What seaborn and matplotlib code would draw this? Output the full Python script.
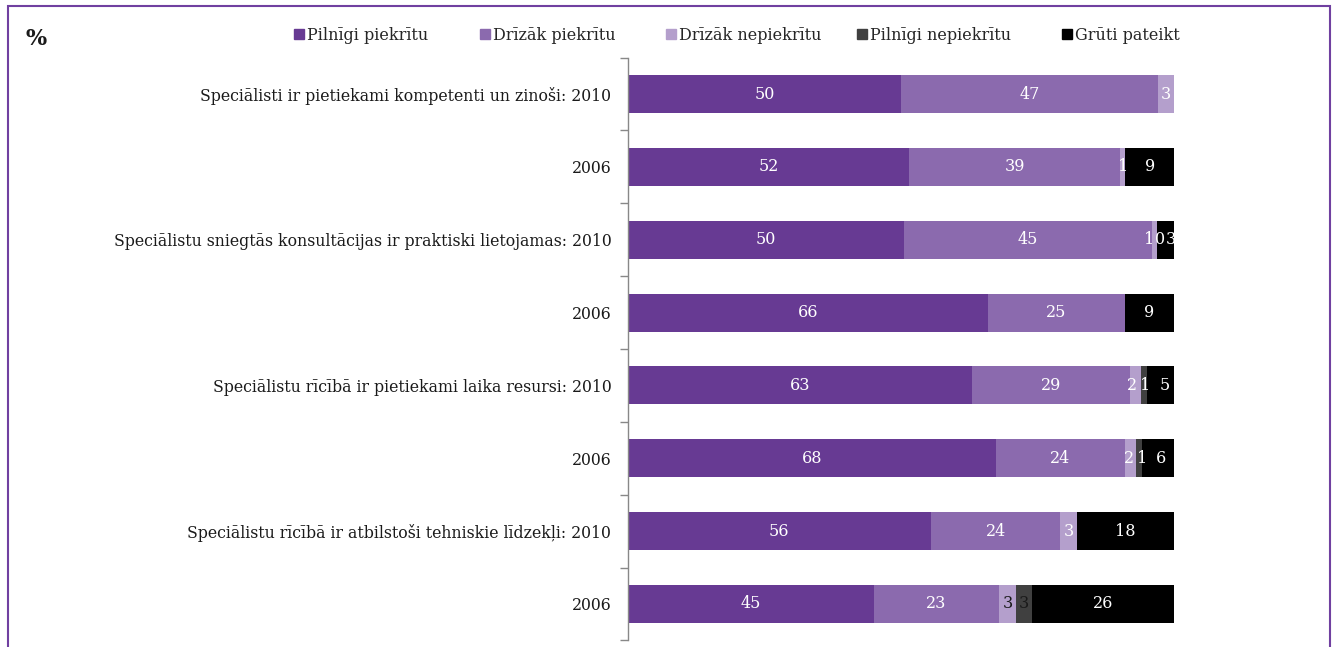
import numpy as np
import pandas as pd
import matplotlib
matplotlib.use("Agg")
import matplotlib.pyplot as plt
from matplotlib.patches import Rectangle
from matplotlib.lines import Line2D
import seaborn as sns

# Survey rows (top to bottom)
row_labels = [
    "Speciālisti ir pietiekami kompetenti un zinoši: 2010",
    "2006",
    "Speciālistu sniegtās konsultācijas ir praktiski lietojamas: 2010",
    "2006",
    "Speciālistu rīcībā ir pietiekami laika resursi: 2010",
    "2006",
    "Speciālistu rīcībā ir atbilstoši tehniskie līdzekļi: 2010",
    "2006",
]
series_names = ["Pilnīgi piekrītu", "Drīzāk piekrītu", "Drīzāk nepiekrītu",
                "Pilnīgi nepiekrītu", "Grūti pateikt"]
# NaN = no answer share shown for that row
pilnigi_piekritu = [50, 52, 50, 66, 63, 68, 56, 45]
drizak_piekritu = [47, 39, 45, 25, 29, 24, 24, 23]
drizak_nepiekritu = [3, 1, 1, np.nan, 2, 2, 3, 3]
pilnigi_nepiekritu = [np.nan, np.nan, 0, np.nan, 1, 1, np.nan, 3]
gruti_pateikt = [np.nan, 9, 3, 9, 5, 6, 18, 26]

colors = ["#673A93", "#8B6AAE", "#B49FCC", "#404040", "#000000"]

sns.set_theme(style="white")
plt.rcParams["font.family"] = ["DejaVu Serif"]

values = np.array([pilnigi_piekritu, drizak_piekritu, drizak_nepiekritu,
                   pilnigi_nepiekritu, gruti_pateikt], dtype=float)
vals0 = np.nan_to_num(values)
totals = vals0.sum(axis=0)
shares = vals0 / totals * 100
cum = np.cumsum(shares, axis=0)

row_ids = [f"r{i}" for i in range(len(row_labels))]

fig = plt.figure(figsize=(13.38, 6.47), dpi=100)
ax = fig.add_axes([628 / 1338, 1 - 640.4 / 647, (1174 - 628) / 1338, 582.8 / 647])

# Stacked bars: draw cumulative totals from the widest layer down
for k in range(len(series_names) - 1, -1, -1):
    df = pd.DataFrame({"row": row_ids, "x": cum[k]})
    sns.barplot(data=df, x="x", y="row", order=row_ids, orient="h",
                color=colors[k], width=0.52, saturation=1, ax=ax,
                edgecolor="none", linewidth=0)

# Small horizontal nudges (in points) for crowded labels
nudge = {(2, 2): -4, (3, 2): 2, (4, 2): 4, (2, 4): -3, (3, 4): 1, (4, 4): 3,
         (2, 5): -1, (3, 5): 2, (4, 5): 2}

# Value labels centred in each segment
for k in range(len(series_names)):
    for i in range(len(row_ids)):
        v = values[k, i]
        if np.isnan(v):
            continue
        start = cum[k, i] - shares[k, i]
        xc = start + shares[k, i] / 2
        col = "#1a1a1a" if (i == 7 and k in (2, 3)) else "white"
        ax.annotate(f"{int(v)}", (xc, i), xytext=(nudge.get((k, i), 0), 0),
                    textcoords="offset points", ha="center", va="center",
                    color=col, fontsize=11.5)

ax.set_xlim(0, 100)
ax.set_ylim(7.5, -0.5)
ax.set_xlabel("")
ax.set_ylabel("")
ax.set_xticks([])
ax.set_yticks(range(len(row_labels)))
ax.set_yticklabels(row_labels, fontsize=11.3, color="#1a1a1a")
ax.set_yticks(np.arange(-0.5, 8, 1), minor=True)
ax.tick_params(axis="y", which="major", length=0, pad=12)
ax.tick_params(axis="y", which="minor", length=6, width=1, color="#888888",
               direction="out", left=True)
for s in ["top", "right", "bottom"]:
    ax.spines[s].set_visible(False)
ax.spines["left"].set_color("#888888")
ax.spines["left"].set_linewidth(1)
ax.set_facecolor("none")

# Legend entries across the top
legend_x = [293, 479, 665, 856, 1061]
for name, c, lx in zip(series_names, colors, legend_x):
    h = Line2D([0], [0], marker="s", linestyle="none", markersize=7.5,
               markerfacecolor=c, markeredgecolor=c)
    fig.legend([h], [name], loc="center left",
               bbox_to_anchor=(lx / 1338, 1 - 35 / 647), frameon=False,
               fontsize=11.5, handletextpad=0.15, handlelength=0.7,
               borderpad=0, borderaxespad=0)

fig.text(25 / 1338, 1 - 39 / 647, "%", fontsize=16, fontweight="bold",
         ha="left", va="center", color="#1a1a1a")

# Purple frame around the chart area (open at the bottom edge)
fig.patches.append(Rectangle((7.5 / 1338, -0.2), (1330 - 7.5) / 1338,
                             1.2 - 5.5 / 647, transform=fig.transFigure,
                             fill=False, edgecolor="#7040A0", linewidth=1.5))

fig.savefig("out.png", dpi=100)
